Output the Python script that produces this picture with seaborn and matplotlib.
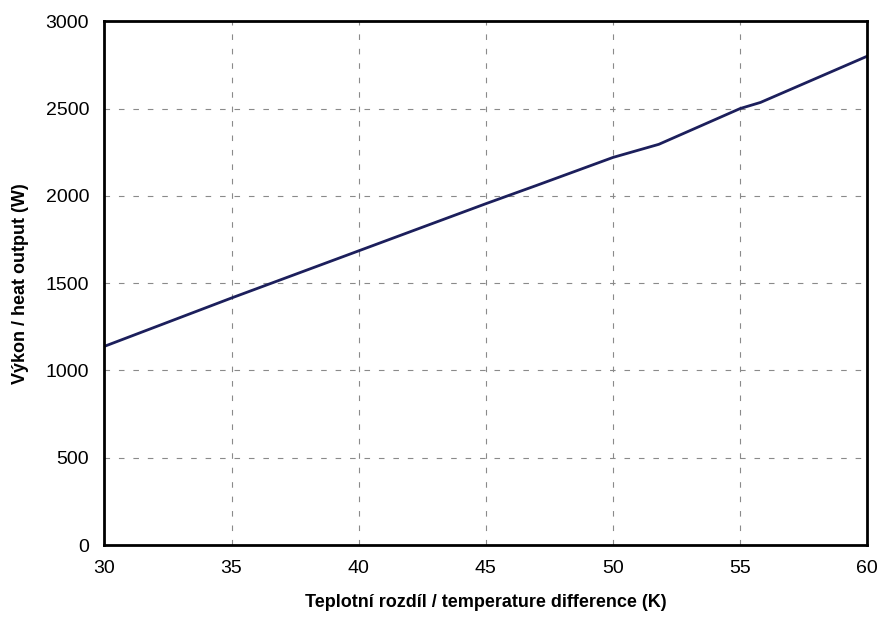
import pandas as pd
import matplotlib.pyplot as plt
import seaborn as sns

# values
delta_t = [30, 35, 40, 45, 47, 50, 51.8, 55, 55.8, 60]
heat_output = [1138, 1415, 1685, 1955, 2060, 2220, 2295, 2500, 2535, 2800]
x_ticks = [30, 35, 40, 45, 50, 55, 60]
y_ticks = [0, 500, 1000, 1500, 2000, 2500, 3000]

df = pd.DataFrame({"dt": delta_t, "q": heat_output})

sns.set_style("white")
plt.rcParams["font.family"] = ["Liberation Sans", "DejaVu Sans"]

fig = plt.figure(figsize=(8.85, 6.25), dpi=100)
ax = fig.add_axes([0.118, 0.128, 0.862, 0.838])

sns.lineplot(data=df, x="dt", y="q", ax=ax, color="#1c1f5c", linewidth=2)

ax.set_xlim(30, 60)
ax.set_ylim(0, 3000)
ax.set_xticks(x_ticks)
ax.set_yticks(y_ticks)
ax.tick_params(labelsize=14, length=0, pad=11, labelcolor="black")
ax.grid(True, color="#8a8a8a", linestyle=(0, (5, 8)), linewidth=0.8)
for s in ax.spines.values():
    s.set_color("black")
    s.set_linewidth(2)

ax.set_xlabel("Teplotní rozdíl / temperature difference (K)", fontsize=13,
              fontweight="bold", labelpad=12, color="black")
ax.set_ylabel("Výkon / heat output (W)", fontsize=13, fontweight="bold",
              labelpad=12, color="black")

fig.savefig("out.png")
plt.close()
